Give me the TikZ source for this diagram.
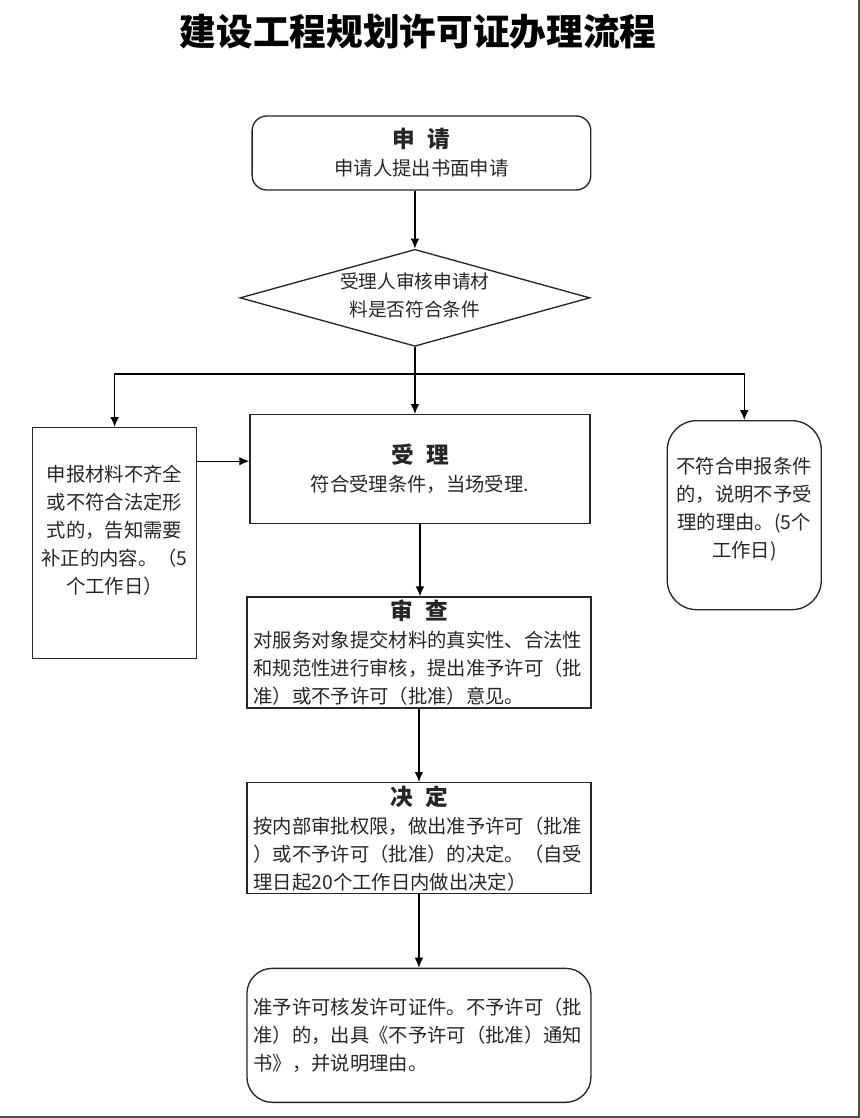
\documentclass[tikz,border=0pt]{standalone}
\usepackage{fontspec}
\setmainfont{Noto Sans CJK SC}
\usepackage{tikz}
\usetikzlibrary{positioning,shapes,arrows,arrows.meta}
\newcommand{\BodyFont}{\fontsize{14.5}{21}\selectfont}
\newcommand{\HeadFont}{\fontsize{17}{21}\selectfont\bfseries}
\newcommand{\BoxHead}[1]{\makebox[248pt]{\HeadFont #1}}
\tikzstyle{BoxNode}=[rectangle, draw=black!85, line width=1pt, font=\BodyFont, text=black!85]
\tikzstyle{StartEndNode}=[BoxNode, rounded corners=11pt, minimum width=254pt, minimum height=55.5pt, align=center]
\tikzstyle{OperationNode}=[BoxNode, minimum width=258pt, minimum height=83.25pt, text width=248pt, inner ysep=0pt, align=left]
\tikzstyle{DecisionNode}=[BoxNode, diamond, aspect=3.6, minimum width=262.5pt, minimum height=72.75pt, inner sep=0pt, align=center]
\tikzstyle{SideNode}=[BoxNode, align=center]

\begin{document}
\begin{tikzpicture}[>={Latex[length=7.5pt,width=6.5pt]}, line width=1pt]
    \useasboundingbox (0,0) rectangle (645pt,-838.5pt);
    \draw [black!70, line width=1.5pt] (0,-837.75pt) -- (644.25pt,-837.75pt) -- (644.25pt,0);

    \node (title) at (313.5pt,-24pt) {\fontsize{27.5}{33}\selectfont\bfseries 建设工程规划许可证办理流程};
    \node (apply) [StartEndNode] at (316.1pt,-114.75pt) {{\HeadFont 申\hspace{0.55em}请}\\ 申请人提出书面申请};
    \node (check) [DecisionNode, below=43.5pt of apply, xshift=-4.9pt,
      label={[align=center, font=\fontsize{14}{21}\selectfont, text=black!85, yshift=2pt]center:{受理人审核申请材\\料是否符合条件}}] {};
    \coordinate [below=20.25pt of check] (split);
    \node (accept) [BoxNode, align=center, minimum width=255pt, minimum height=81.75pt, below=50.25pt of check, xshift=3.75pt] {{\HeadFont 受\hspace{0.55em}理}\\ 符合受理条件，当场受理.};
    \node (supp) [SideNode, below left=9.75pt and 39pt of accept.north west, minimum width=123pt, minimum height=173.25pt] {
      申报材料不齐全\\或不符合法定形\\式的，告知需要\\补正的内容。（5\\个工作日）\\ \mbox{}
    };
    \node (reject) [SideNode, rounded corners=22pt, below right=4.5pt and 57pt of accept.north east, minimum width=115.5pt, minimum height=141.75pt] {
      不符合申报条件\\的，说明不予受\\理的理由。(5个\\工作日)\\[-9pt] \mbox{}
    };
    \node (review) [OperationNode, below=54pt of accept, xshift=-0.75pt] {
      \BoxHead{审\hspace{0.55em}查}\\
      对服务对象提交材料的真实性、合法性\\
      和规范性进行审核，提出准予许可（批\\
      准）或不予许可（批准）意见。
    };
    \node (decide) [OperationNode, below=55pt of review] {
      \BoxHead{决\hspace{0.55em}定}\\
      按内部审批权限，做出准予许可（批准\\
      ）或不予许可（批准）的决定。（自受\\
      理日起20个工作日内做出决定）
    };
    \node (issue) [OperationNode, rounded corners=19pt, minimum height=100.5pt, below=55pt of decide] {
      准予许可核发许可证件。不予许可（批\\
      准）的，出具《不予许可（批准）通知\\
      书》，并说明理由。
    };

    \draw [->] (apply.south -| check.north) -- (check.north);
    \draw (check.south) -- (split);
    \draw [->] (split) -- (split |- accept.north);
    \draw [->] (split) -| (supp.north);
    \draw [->] (split) -| (reject.north);
    \draw [->] ([yshift=6pt]accept.west -| supp.east) -- ([yshift=6pt]accept.west);
    \draw [->] (accept.south) -- (accept.south |- review.north);
    \draw [->] (review.south) -- (decide.north);
    \draw [->] (decide.south) -- (issue.north);
\end{tikzpicture}
\end{document}
